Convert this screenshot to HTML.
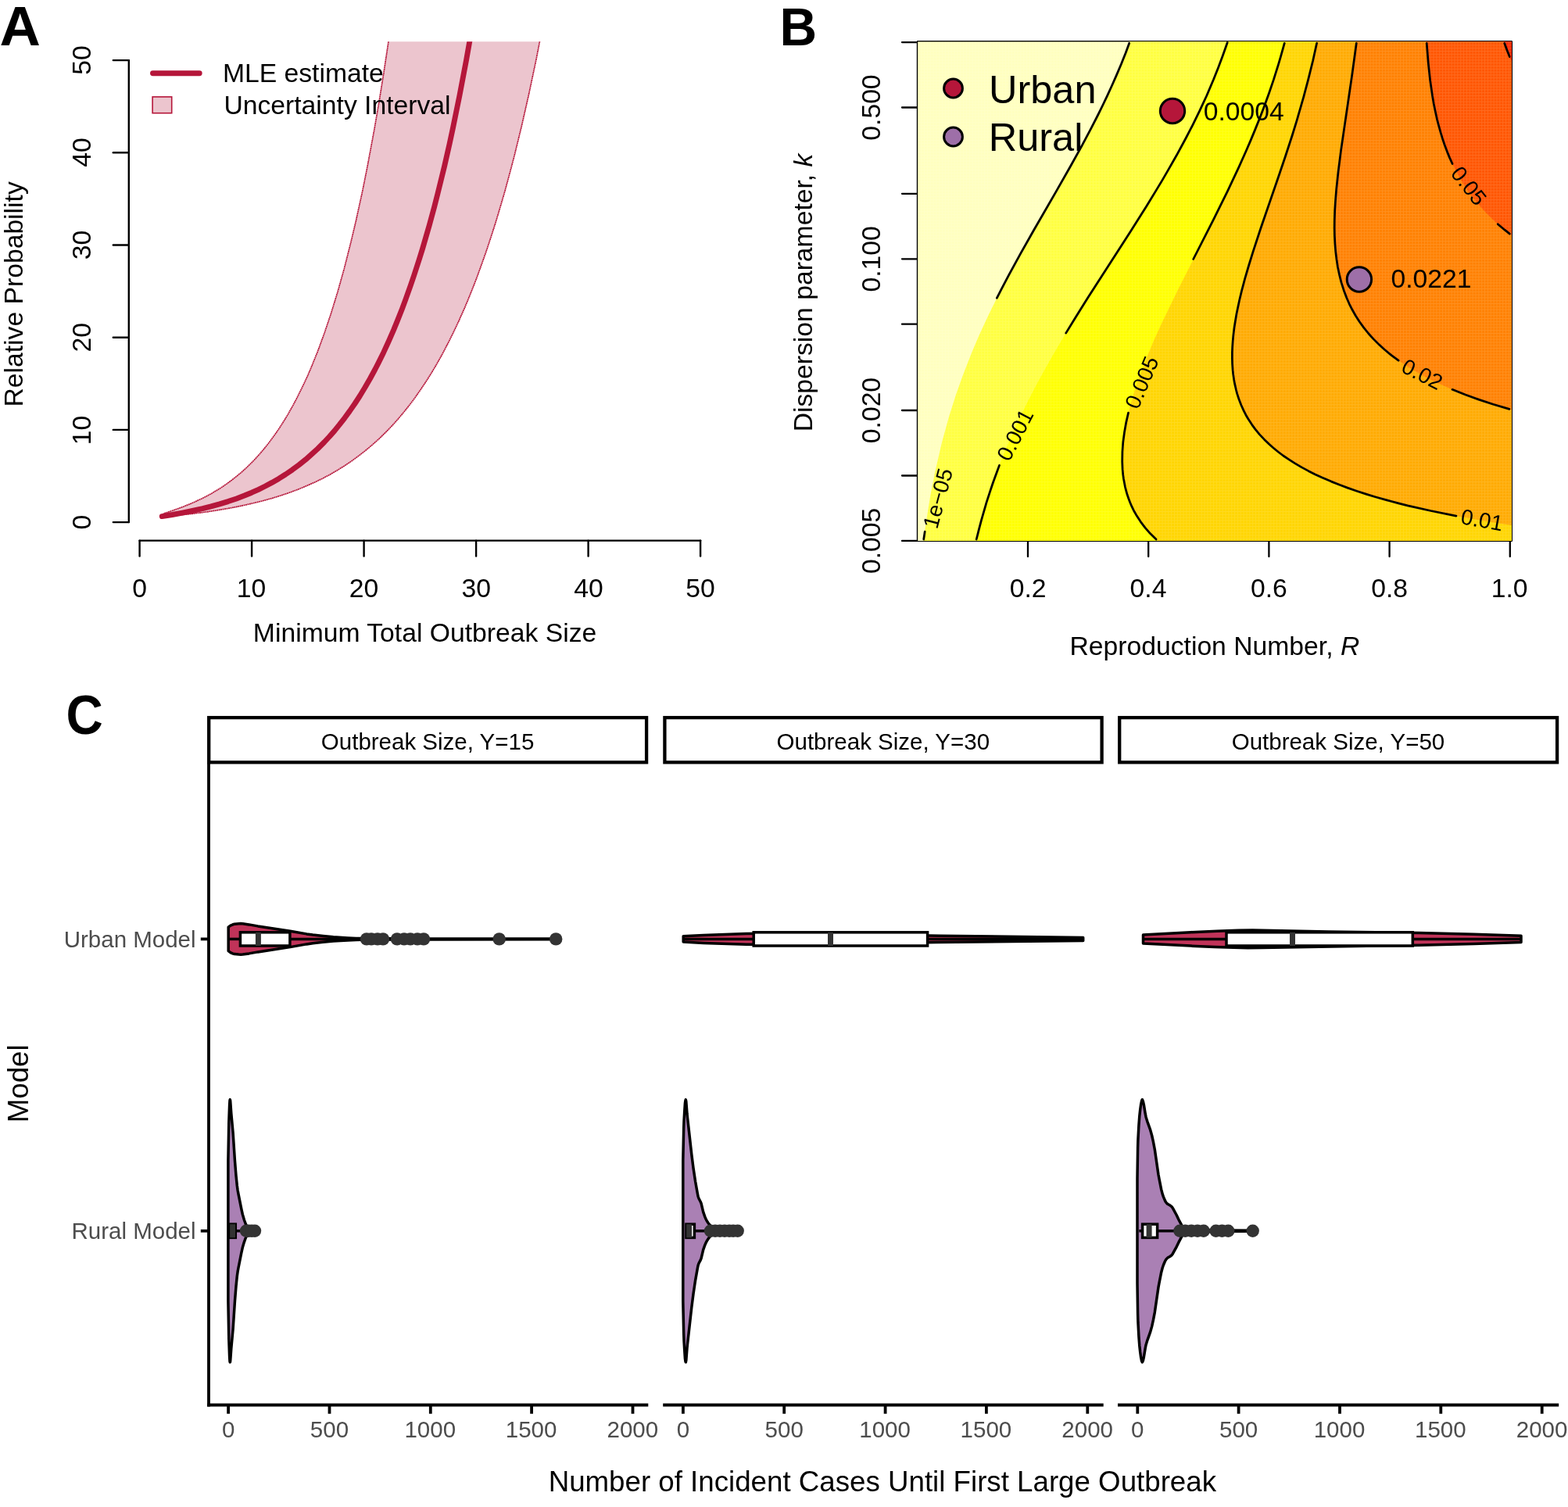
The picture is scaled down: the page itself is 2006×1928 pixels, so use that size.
<!DOCTYPE html>
<html lang="en">
<head>
<meta charset="utf-8">
<title>Figure: relative probability, outbreak risk and incident cases</title>
<style>
html,body{margin:0;padding:0;background:#fff;}
body{width:2006px;height:1928px;overflow:hidden;}
svg{display:block;font-family:'Liberation Sans', Arial, Helvetica, sans-serif;}
</style>
</head>
<body>
<svg xmlns="http://www.w3.org/2000/svg" width="2006" height="1928" viewBox="0 0 2006 1928">
<rect width="2006" height="1928" fill="#fff"/>
<g id="panelA">
<text transform="translate(-0.51,57.90) scale(1.0880,1.0429)" font-size="66.67" font-weight="bold">A</text>
<clipPath id="clipA"><rect x="150" y="53.2" width="800" height="640"/></clipPath>
<g clip-path="url(#clipA)">
<path d="M207.3,660.6L209.4,657.1 222.1,652.7 232.7,648.9 241.2,645.5 247.6,642.8 256,638.9 262.4,635.8 270.9,631.2 277.2,627.4 283.6,623.4 289.9,619.1 296.3,614.4 302.6,609.4 309,604.1 315.4,598.3 321.7,592.1 326,587.7 332.3,580.7 336.5,575.8 342.9,567.9 347.1,562.3 353.5,553.4 357.7,547.2 364.1,537.2 368.3,530.2 374.7,518.9 378.9,511 387.4,494 393.8,480.2 398,470.4 406.5,449.4 414.9,426.5 423.4,401.3 431.9,373.7 440.4,343.4 448.8,310.3 455.2,283.4 463.7,244.6 470,213.1 478.5,167.6 484.9,130.8 491.2,91.4 497.6,49.2 503.9,4.1 510.3,-44.1 516.6,-95.6 523,-150.6 723.9,-143.2 714.5,-82.2 705,-25.7 695.6,26.7 686.2,75.1 676.7,120 667.3,161.5 657.9,199.9 653.1,218.1 646.1,244 641.3,260.5 634.3,284 629.5,299 622.5,320.3 617.7,333.9 610.7,353.3 606,365.6 598.9,383.2 594.2,394.4 587.1,410.3 580,425.4 572.9,439.6 565.9,453 558.8,465.7 551.7,477.6 544.6,488.8 537.5,499.4 530.5,509.4 523.4,518.8 516.3,527.7 509.2,536.1 502.2,544 495.1,551.4 485.7,560.7 478.6,567.1 469.1,575.2 459.7,582.6 450.3,589.5 440.8,595.9 431.4,601.7 422,607.2 412.5,612.2 403.1,616.8 391.3,622 381.9,625.9 370.1,630.3 358.3,634.3 346.5,637.9 334.7,641.1 322.9,644 308.7,647.2 294.6,650 280.4,652.4 263.9,655 247.4,657.1 228.5,659.2 209.7,660.8 207.3,660.6Z" fill="#B5163A" fill-opacity="0.25" stroke="#B5163A" stroke-width="1.7" stroke-linejoin="round" stroke-dasharray="2 0.5"/>
<path d="M207.3,660.6L220.3,658.5 233.3,656.1 246.2,653.5 259.2,650.6 270,647.9 280.9,644.9 291.7,641.6 302.5,637.9 313.3,633.8 322,630.2 330.6,626.3 339.3,622 347.9,617.4 356.6,612.4 365.2,607 373.9,601.1 382.5,594.7 391.2,587.8 399.8,580.2 406.3,574.2 415,565.5 421.5,558.5 428,551.1 434.4,543.2 440.9,534.8 447.4,525.9 453.9,516.5 460.4,506.5 466.9,495.8 473.4,484.5 479.9,472.5 484.2,464.1 490.7,450.9 497.2,436.8 503.7,421.9 508,411.4 514.5,394.9 518.8,383.4 525.3,365.2 529.6,352.5 536.1,332.5 540.5,318.4 549.1,288.7 555.6,264.8 559.9,248 568.6,212.6 575.1,184.1 579.4,164.1 588,121.9 596.7,76.2 605.4,26.8 614,-26.5 622.7,-84.1 631.3,-146.3 637.8,-196.1" fill="none" stroke="#B5163A" stroke-width="6.9" stroke-linecap="round" stroke-linejoin="round"/>
</g>
<line x1="164.8" y1="77.1" x2="164.8" y2="668.1" stroke="#000" stroke-width="2.4" stroke-linecap="round"/>
<line x1="144.8" y1="668.1" x2="164.8" y2="668.1" stroke="#000" stroke-width="2.4" stroke-linecap="round"/>
<text transform="translate(116.2,668.1) rotate(-90)" x="-9.39" y="0.00" font-size="33.7">0</text>
<line x1="144.8" y1="549.9" x2="164.8" y2="549.9" stroke="#000" stroke-width="2.4" stroke-linecap="round"/>
<text transform="translate(116.2,549.9) rotate(-90)" x="-19.34" y="0.00" font-size="33.7">10</text>
<line x1="144.8" y1="431.7" x2="164.8" y2="431.7" stroke="#000" stroke-width="2.4" stroke-linecap="round"/>
<text transform="translate(116.2,431.7) rotate(-90)" x="-18.91" y="0.00" font-size="33.7">20</text>
<line x1="144.8" y1="313.5" x2="164.8" y2="313.5" stroke="#000" stroke-width="2.4" stroke-linecap="round"/>
<text transform="translate(116.2,313.5) rotate(-90)" x="-18.70" y="0.00" font-size="33.7">30</text>
<line x1="144.8" y1="195.3" x2="164.8" y2="195.3" stroke="#000" stroke-width="2.4" stroke-linecap="round"/>
<text transform="translate(116.2,195.3) rotate(-90)" x="-18.45" y="0.00" font-size="33.7">40</text>
<line x1="144.8" y1="77.1" x2="164.8" y2="77.1" stroke="#000" stroke-width="2.4" stroke-linecap="round"/>
<text transform="translate(116.2,77.1) rotate(-90)" x="-18.75" y="0.00" font-size="33.7">50</text>
<line x1="178.6" y1="691.6" x2="896.1" y2="691.6" stroke="#000" stroke-width="2.4" stroke-linecap="round"/>
<line x1="178.6" y1="691.6" x2="178.6" y2="711.6" stroke="#000" stroke-width="2.4" stroke-linecap="round"/>
<text x="169.21" y="763.80" font-size="33.7">0</text>
<line x1="322.1" y1="691.6" x2="322.1" y2="711.6" stroke="#000" stroke-width="2.4" stroke-linecap="round"/>
<text x="302.76" y="763.80" font-size="33.7">10</text>
<line x1="465.6" y1="691.6" x2="465.6" y2="711.6" stroke="#000" stroke-width="2.4" stroke-linecap="round"/>
<text x="446.69" y="763.80" font-size="33.7">20</text>
<line x1="609.1" y1="691.6" x2="609.1" y2="711.6" stroke="#000" stroke-width="2.4" stroke-linecap="round"/>
<text x="590.40" y="763.80" font-size="33.7">30</text>
<line x1="752.6" y1="691.6" x2="752.6" y2="711.6" stroke="#000" stroke-width="2.4" stroke-linecap="round"/>
<text x="734.15" y="763.80" font-size="33.7">40</text>
<line x1="896.1" y1="691.6" x2="896.1" y2="711.6" stroke="#000" stroke-width="2.4" stroke-linecap="round"/>
<text x="877.35" y="763.80" font-size="33.7">50</text>
<text x="323.86" y="821.20" font-size="33.7">Minimum Total Outbreak Size</text>
<text transform="translate(29,375) rotate(-90)" x="-145.58" y="0.00" font-size="33.7">Relative Probability</text>
<line x1="195.5" y1="93.7" x2="255.2" y2="93.7" stroke="#B5163A" stroke-width="6.9" stroke-linecap="round"/>
<rect x="195.1" y="123.9" width="24.6" height="20.8" fill="#B5163A" fill-opacity="0.25" stroke="#B5163A" stroke-width="1.6"/>
<text x="284.92" y="105.10" font-size="33.7">MLE estimate</text>
<text x="286.39" y="146.00" font-size="33.7">Uncertainty Interval</text>
</g>
<g id="panelB">
<text transform="translate(997.55,57.70) scale(0.9885,1.0407)" font-size="66.67" font-weight="bold">B</text>
<rect x="1173.95" y="53.2" width="759.95" height="638.75" fill="none" stroke="#000" stroke-width="2.3" stroke-linejoin="round"/>
<line x1="1154" y1="54.1" x2="1174" y2="54.1" stroke="#000" stroke-width="2.3" stroke-linecap="round"/>
<line x1="1154" y1="137.5" x2="1174" y2="137.5" stroke="#000" stroke-width="2.3" stroke-linecap="round"/>
<text transform="translate(1126.4,137.5) rotate(-90)" x="-42.21" y="0.00" font-size="33.7">0.500</text>
<line x1="1154" y1="247.8" x2="1174" y2="247.8" stroke="#000" stroke-width="2.3" stroke-linecap="round"/>
<line x1="1154" y1="331.3" x2="1174" y2="331.3" stroke="#000" stroke-width="2.3" stroke-linecap="round"/>
<text transform="translate(1126.4,331.3) rotate(-90)" x="-42.21" y="0.00" font-size="33.7">0.100</text>
<line x1="1154" y1="414.7" x2="1174" y2="414.7" stroke="#000" stroke-width="2.3" stroke-linecap="round"/>
<line x1="1154" y1="525" x2="1174" y2="525" stroke="#000" stroke-width="2.3" stroke-linecap="round"/>
<text transform="translate(1126.4,525) rotate(-90)" x="-42.21" y="0.00" font-size="33.7">0.020</text>
<line x1="1154" y1="608.5" x2="1174" y2="608.5" stroke="#000" stroke-width="2.3" stroke-linecap="round"/>
<line x1="1154" y1="691.9" x2="1174" y2="691.9" stroke="#000" stroke-width="2.3" stroke-linecap="round"/>
<text transform="translate(1126.4,691.9) rotate(-90)" x="-42.17" y="0.00" font-size="33.7">0.005</text>
<line x1="1315" y1="692" x2="1315" y2="712" stroke="#000" stroke-width="2.3" stroke-linecap="round"/>
<text x="1291.75" y="764.10" font-size="33.7">0.2</text>
<line x1="1469.2" y1="692" x2="1469.2" y2="712" stroke="#000" stroke-width="2.3" stroke-linecap="round"/>
<text x="1445.57" y="764.10" font-size="33.7">0.4</text>
<line x1="1623.4" y1="692" x2="1623.4" y2="712" stroke="#000" stroke-width="2.3" stroke-linecap="round"/>
<text x="1600.02" y="764.10" font-size="33.7">0.6</text>
<line x1="1777.6" y1="692" x2="1777.6" y2="712" stroke="#000" stroke-width="2.3" stroke-linecap="round"/>
<text x="1754.22" y="764.10" font-size="33.7">0.8</text>
<line x1="1931.8" y1="692" x2="1931.8" y2="712" stroke="#000" stroke-width="2.3" stroke-linecap="round"/>
<text x="1907.75" y="764.10" font-size="33.7">1.0</text>
<clipPath id="clipB"><rect x="1174.1" y="53.2" width="759.8" height="638.8"/></clipPath>
<g clip-path="url(#clipB)">
<rect x="1174.1" y="53.2" width="759.8" height="638.8" fill="#FFFFBF"/>
<path d="M1445.6,52.7L1446.5,50.2 1936.9,50.2 1936.9,695 1181.1,695 1184.4,670.1 1190.5,632.8 1196.4,602.9 1205.1,565.5 1214,533.2 1222.7,505.8 1231.5,480.9 1243.2,451 1252.8,428.6 1264.3,403.7 1276.6,378.8 1288.2,356.4 1314.2,309.1 1375.1,202.7 1389.9,175.6 1401.7,152.9 1413.6,128.9 1425.4,103.1 1437.2,74.9 1445.6,52.7Z" fill="#FFFF40"/>
<path d="M1571.6,50.2L1936.9,50.2 1936.9,695 1248.1,695 1252.9,675.1 1259.1,652.7 1266.1,630.3 1273.8,607.9 1282.4,585.5 1291.7,563.1 1302.9,538.2 1313.8,515.8 1324.1,495.8 1334.8,475.9 1347.5,453.5 1362.2,428.6 1391.5,381.3 1446.1,296.5 1466.8,263.7 1487.5,229.6 1505.2,198.8 1517,177 1525.9,159.8 1534.8,141.7 1543.7,122.5 1552.5,101.8 1558.4,87 1564.3,71.2 1571.6,50.2Z" fill="#FFFF00"/>
<path d="M1643.9,52.7L1644.6,50.2 1936.9,50.2 1936.9,695 1484.8,695 1478.6,689.6 1472.7,683.8 1463,672.6 1457.9,665.6 1454.4,660.1 1447.8,647.7 1444.7,640.2 1442.1,632.8 1440,625.3 1437.9,615.3 1436.8,607.9 1435.9,597.9 1435.7,590.4 1435.8,580.5 1436.4,570.5 1437.4,560.6 1440.7,540.6 1446,518.2 1452.8,495.8 1459.8,475.9 1467.6,456 1476,436.1 1486.1,413.7 1506.6,371.4 1549.6,286.7 1567.3,251 1582.1,220 1596.9,187 1611.7,151.1 1623.5,119.3 1629.4,101.9 1635.3,83.1 1643.9,52.7Z" fill="#FFD500"/>
<path d="M1685.2,52.7L1685.7,50.2 1936.9,50.2 1936.9,672.5 1898.5,666.4 1860,659.5 1824.5,652.2 1795,645.3 1765.4,637.4 1738.8,629.2 1715.1,620.8 1694.4,612.3 1673.7,602.4 1656,592.4 1641.2,582.6 1632.4,575.8 1626.4,570.8 1620.5,565.4 1613.5,558.1 1608.7,552.6 1603.3,545.6 1595.2,533.2 1591.3,525.7 1587.9,518.2 1583.4,505.8 1580.1,493.3 1577.6,478.4 1576.5,463.5 1576.5,448.5 1577.6,431.1 1579.9,413.7 1583.5,393.8 1586.9,378.8 1591.3,361.4 1601.6,326.5 1613,291.7 1644.2,200.8 1653.1,173.5 1661.9,144.5 1673.7,101.6 1679.7,77.5 1685.2,52.7Z" fill="#FFAA00"/>
<path d="M1735.6,52.7L1735.9,50.2 1936.9,50.2 1936.9,525.1 1916.2,519.1 1895.5,512.4 1874.8,505 1857.1,497.9 1839.3,490.1 1824.5,482.7 1809.8,474.5 1796,466 1783.1,456.8 1772.8,448.5 1761.9,438.6 1752.5,428.6 1744.4,418.7 1735.8,406.3 1729.9,396.1 1724,383.8 1719.2,371.4 1715.3,358.9 1712.4,346.5 1710.2,334 1708.7,321.6 1707.6,306.6 1707.2,291.7 1707.5,274.3 1709.5,244.4 1713.3,209.5 1717.7,177.2 1729.9,94.8 1735.6,52.7Z" fill="#FF8000"/>
<path d="M1824.9,50.2L1936.9,50.2 1936.9,303.3 1922.1,291.7 1910.8,281.7 1900.7,271.8 1889.6,259.3 1880,246.9 1871.6,234.4 1863,219.5 1855.8,204.6 1849.7,189.6 1843.8,172.2 1839,154.8 1835.2,137.3 1831.7,117.4 1829,97.5 1826.7,75.1 1824.9,50.2Z" fill="#FF5500"/>
<path d="M1923,50.2L1936.9,50.2 1936.9,85.4 1929.3,67.6 1923,50.2Z" fill="#FF2A00"/>
<pattern id="cells" x="1174.3" y="53.6" width="3.855" height="3.8" patternUnits="userSpaceOnUse"><path d="M0,0.5H3.95M0.5,0V3.6" stroke="#fff" stroke-opacity="0.13" stroke-width="1" fill="none"/></pattern>
<rect x="1174.1" y="53.2" width="759.8" height="638.8" fill="url(#cells)"/>
<path d="M1275.3,381.3L1281.7,368.9 1290.9,351.4 1305.8,324.1 1322.7,294.2 1351.5,244.4 1369.2,213.2 1384,186.6 1395.8,164.4 1404.7,147 1410.6,135 1416.5,122.7 1422.4,109.8 1428.3,96.4 1434.3,82.3 1440.2,67.4 1444.7,55.2" fill="none" stroke="#000" stroke-width="2.75" stroke-linecap="round" stroke-linejoin="round"/>
<path d="M1181.7,690L1183.2,680.1" fill="none" stroke="#000" stroke-width="2.75" stroke-linecap="round" stroke-linejoin="round"/>
<path d="M1363.7,426.1L1375.9,406.2 1391.5,381.3 1446.1,296.5 1466.8,263.7 1478.6,244.4 1487.5,229.6 1496.3,214.4 1505.2,198.8 1517,177 1525.9,159.8 1534.8,141.7 1543.7,122.5 1552.5,101.8 1558.4,87 1564.3,71.2 1570.3,54.2" fill="none" stroke="#000" stroke-width="2.75" stroke-linecap="round" stroke-linejoin="round"/>
<path d="M1249.2,690L1252.3,677.6 1255.6,665.1 1262.1,642.7 1266.1,630.3 1270.3,617.8 1278.5,595.4" fill="none" stroke="#000" stroke-width="2.75" stroke-linecap="round" stroke-linejoin="round"/>
<path d="M1526.7,331.5L1552.5,280.8 1570.3,244.9 1585,213.6 1593.9,193.8 1599.8,180.1 1605.7,165.9 1611.7,151.1 1617.6,135.6 1623.5,119.3 1629.4,101.9 1635.3,83.1 1638.4,72.6 1643.3,55.2" fill="none" stroke="#000" stroke-width="2.75" stroke-linecap="round" stroke-linejoin="round"/>
<path d="M1479.1,690L1471.5,682.6 1465,675.1 1459.3,667.6 1454.4,660.1 1450.2,652.7 1447.8,647.7 1445.7,642.7 1443.8,637.7 1442.1,632.8 1440.7,627.8 1439.4,622.8 1437.5,612.8 1436.8,607.9 1436.1,600.4 1435.7,590.4 1435.9,578 1436.8,565.5 1438.5,553.1 1440.7,540.6 1443.5,528.2" fill="none" stroke="#000" stroke-width="2.75" stroke-linecap="round" stroke-linejoin="round"/>
<path d="M1863,660.1L1830.5,653.5 1800.9,646.8 1789.1,643.8 1774.3,639.9 1759.5,635.7 1747.7,632.1 1735.8,628.2 1724,624.1 1713.8,620.3 1703.3,616.1 1691.5,611 1682.6,606.9 1673.7,602.4 1665.3,597.9 1656.8,592.9 1649,587.9 1641.7,583 1635.1,578 1629,573 1623.4,568 1617.6,562.4 1611.2,555.6 1605.7,548.9 1601.5,543.1 1596.9,536 1593.8,530.7 1591,525.1 1587.9,518.2 1585,510.8 1582.6,503.3 1581.3,498.3 1579.6,490.9 1578.7,485.9 1577.6,478.4 1577.1,473.4 1576.6,466 1576.4,458.5 1576.4,451 1576.7,443.6 1577.2,436.1 1577.9,428.6 1579.1,418.7 1580.3,411.2 1582,401.2 1585.7,383.8 1588.7,371.4 1592.7,356.4 1597.8,339 1603.2,321.6 1613,291.7 1635.3,227 1644.2,200.8 1653.1,173.5 1659,154.4 1667.8,123.8 1673.7,101.6 1679.7,77.5 1684.6,55.2" fill="none" stroke="#000" stroke-width="2.75" stroke-linecap="round" stroke-linejoin="round"/>
<path d="M1789.1,461.2L1780.2,454.6 1771.3,447.3 1764.5,441.1 1757,433.6 1750.6,426.5 1744.7,419.1 1739,411.2 1734.2,403.7 1730,396.3 1726.2,388.8 1722.9,381.3 1719.2,371.4 1716,361.4 1713.5,351.4 1711.4,341.5 1709.9,331.5 1708.7,321.6 1707.9,311.6 1707.4,301.6 1707.2,291.7 1707.3,281.7 1707.7,269.3 1708.5,256.8 1709.7,241.9 1712.1,219.5 1715.6,192.1 1729.9,94.8 1735.3,55.2" fill="none" stroke="#000" stroke-width="2.75" stroke-linecap="round" stroke-linejoin="round"/>
<path d="M1931,523.4L1910.3,517.2 1892.5,511.4 1874.8,505 1858,498.3" fill="none" stroke="#000" stroke-width="2.75" stroke-linecap="round" stroke-linejoin="round"/>
<path d="M1858.1,209.5L1854.7,202.1 1851.6,194.6 1848.2,185.5 1845.4,177.2 1843.1,169.7 1840.3,159.7 1838.4,152.3 1836.2,142.3 1834.2,132.4 1832.5,122.4 1829.6,102.5 1827.2,80.1 1825.2,55.2" fill="none" stroke="#000" stroke-width="2.75" stroke-linecap="round" stroke-linejoin="round"/>
<path d="M1931.4,299.2L1925.1,294.2 1916.2,286.7" fill="none" stroke="#000" stroke-width="2.75" stroke-linecap="round" stroke-linejoin="round"/>
<path d="M1931.3,72.6L1928,64.3 1924.7,55.2" fill="none" stroke="#000" stroke-width="2.75" stroke-linecap="round" stroke-linejoin="round"/>
</g>
<text transform="translate(1199.8,637.6) rotate(-75)" font-size="27.8" text-anchor="middle" dy="0.35em">1e&#8722;05</text>
<text transform="translate(1298.6,556.4) rotate(-62.7)" font-size="27.8" text-anchor="middle" dy="0.35em">0.001</text>
<text transform="translate(1460.6,489.3) rotate(-67)" font-size="27.8" text-anchor="middle" dy="0.35em">0.005</text>
<text transform="translate(1896.1,665.2) rotate(10)" font-size="27.8" text-anchor="middle" dy="0.35em">0.01</text>
<text transform="translate(1819.5,478.6) rotate(27)" font-size="27.8" text-anchor="middle" dy="0.35em">0.02</text>
<text transform="translate(1879.2,237.5) rotate(51.8)" font-size="27.8" text-anchor="middle" dy="0.35em">0.05</text>
<text x="1368.48" y="837.90" font-size="33.7">Reproduction Number, <tspan font-style="italic">R</tspan></text>
<text transform="translate(1039.3,373) rotate(-90)" x="-179.33" y="0.00" font-size="33.7">Dispersion parameter, <tspan font-style="italic">k</tspan></text>
<circle cx="1219.5" cy="113" r="11.9" fill="#B5163A" stroke="#000" stroke-width="3"/>
<circle cx="1219.5" cy="175" r="11.9" fill="#9E6FA8" stroke="#000" stroke-width="3"/>
<text x="1264.99" y="131.70" font-size="50.5">Urban</text>
<text x="1264.73" y="192.90" font-size="50.5">Rural</text>
<circle cx="1500" cy="142" r="15.7" fill="#B5163A" stroke="#000" stroke-width="3"/>
<circle cx="1738.9" cy="357.5" r="15.7" fill="#9E6FA8" stroke="#000" stroke-width="3"/>
<text x="1539.75" y="153.90" font-size="33.7">0.0004</text>
<text x="1779.45" y="368.40" font-size="33.7">0.0221</text>
</g>
<g id="panelC">
<text transform="translate(84.38,939.19) scale(0.9824,1.0643)" font-size="66.67" font-weight="bold">C</text>
<rect x="267.2" y="918.1" width="559.9" height="57.2" fill="#fff" stroke="#000" stroke-width="4.3"/>
<text x="410.84" y="958.60" font-size="29.5">Outbreak Size, Y=15</text>
<line x1="265.1" y1="1797.5" x2="829.3" y2="1797.5" stroke="#000" stroke-width="3.8"/>
<line x1="292.1" y1="1797.5" x2="292.1" y2="1808.7" stroke="#000" stroke-width="3.8"/>
<text x="283.88" y="1838.60" font-size="29.5" fill="#4D4D4D">0</text>
<line x1="421.5" y1="1797.5" x2="421.5" y2="1808.7" stroke="#000" stroke-width="3.8"/>
<text x="396.82" y="1838.60" font-size="29.5" fill="#4D4D4D">500</text>
<line x1="550.8" y1="1797.5" x2="550.8" y2="1808.7" stroke="#000" stroke-width="3.8"/>
<text x="517.46" y="1838.60" font-size="29.5" fill="#4D4D4D">1000</text>
<line x1="680.1" y1="1797.5" x2="680.1" y2="1808.7" stroke="#000" stroke-width="3.8"/>
<text x="646.81" y="1838.60" font-size="29.5" fill="#4D4D4D">1500</text>
<line x1="809.5" y1="1797.5" x2="809.5" y2="1808.7" stroke="#000" stroke-width="3.8"/>
<text x="776.53" y="1838.60" font-size="29.5" fill="#4D4D4D">2000</text>
<rect x="850.4" y="918.1" width="559.2" height="57.2" fill="#fff" stroke="#000" stroke-width="4.3"/>
<text x="993.55" y="958.60" font-size="29.5">Outbreak Size, Y=30</text>
<line x1="848.2" y1="1797.5" x2="1411.7" y2="1797.5" stroke="#000" stroke-width="3.8"/>
<line x1="873.9" y1="1797.5" x2="873.9" y2="1808.7" stroke="#000" stroke-width="3.8"/>
<text x="865.68" y="1838.60" font-size="29.5" fill="#4D4D4D">0</text>
<line x1="1003.2" y1="1797.5" x2="1003.2" y2="1808.7" stroke="#000" stroke-width="3.8"/>
<text x="978.62" y="1838.60" font-size="29.5" fill="#4D4D4D">500</text>
<line x1="1132.6" y1="1797.5" x2="1132.6" y2="1808.7" stroke="#000" stroke-width="3.8"/>
<text x="1099.26" y="1838.60" font-size="29.5" fill="#4D4D4D">1000</text>
<line x1="1261.9" y1="1797.5" x2="1261.9" y2="1808.7" stroke="#000" stroke-width="3.8"/>
<text x="1228.61" y="1838.60" font-size="29.5" fill="#4D4D4D">1500</text>
<line x1="1391.3" y1="1797.5" x2="1391.3" y2="1808.7" stroke="#000" stroke-width="3.8"/>
<text x="1358.33" y="1838.60" font-size="29.5" fill="#4D4D4D">2000</text>
<rect x="1432.2" y="918.1" width="559.9" height="57.2" fill="#fff" stroke="#000" stroke-width="4.3"/>
<text x="1575.70" y="958.60" font-size="29.5">Outbreak Size, Y=50</text>
<line x1="1430" y1="1797.5" x2="1994.2" y2="1797.5" stroke="#000" stroke-width="3.8"/>
<line x1="1455.3" y1="1797.5" x2="1455.3" y2="1808.7" stroke="#000" stroke-width="3.8"/>
<text x="1447.08" y="1838.60" font-size="29.5" fill="#4D4D4D">0</text>
<line x1="1584.6" y1="1797.5" x2="1584.6" y2="1808.7" stroke="#000" stroke-width="3.8"/>
<text x="1560.02" y="1838.60" font-size="29.5" fill="#4D4D4D">500</text>
<line x1="1714" y1="1797.5" x2="1714" y2="1808.7" stroke="#000" stroke-width="3.8"/>
<text x="1680.66" y="1838.60" font-size="29.5" fill="#4D4D4D">1000</text>
<line x1="1843.3" y1="1797.5" x2="1843.3" y2="1808.7" stroke="#000" stroke-width="3.8"/>
<text x="1810.01" y="1838.60" font-size="29.5" fill="#4D4D4D">1500</text>
<line x1="1972.7" y1="1797.5" x2="1972.7" y2="1808.7" stroke="#000" stroke-width="3.8"/>
<text x="1939.73" y="1838.60" font-size="29.5" fill="#4D4D4D">2000</text>
<line x1="267" y1="976.5" x2="267" y2="1799.4" stroke="#000" stroke-width="3.8"/>
<line x1="256.8" y1="1201.4" x2="267" y2="1201.4" stroke="#000" stroke-width="3.8"/>
<text x="81.70" y="1212.00" font-size="29.5" fill="#4D4D4D">Urban Model</text>
<line x1="256.8" y1="1574.8" x2="267" y2="1574.8" stroke="#000" stroke-width="3.8"/>
<text x="91.51" y="1585.40" font-size="29.5" fill="#4D4D4D">Rural Model</text>
<text x="701.66" y="1907.90" font-size="36.7">Number of Incident Cases Until First Large Outbreak</text>
<text transform="translate(36,1386) rotate(-90)" x="-50.28" y="0.00" font-size="36.7">Model</text>
<path d="M292.2,1186.1L294.8,1184.2 296,1183.6 297.5,1183 300,1182.2 305.4,1181.7 308,1181.6 310.6,1181.8 318.6,1182.9 330,1184.9 371.3,1191.2 392.3,1194.9 400.2,1196.1 413.4,1197.5 426.6,1198.7 445,1199.9 455.6,1200.4 464,1200.6 547.8,1200.9 711.2,1201.1 711.2,1201.7 547.8,1201.9 464,1202.2 455.6,1202.4 445,1202.9 426.6,1204.1 413.4,1205.3 400.2,1206.7 392.3,1207.9 371.3,1211.6 330,1217.9 318.6,1219.9 310.6,1221 308,1221.2 305.4,1221.1 300,1220.6 297.5,1219.8 296,1219.2 294.8,1218.6 292.2,1216.7Z" fill="#C03359" stroke="#000" stroke-width="3.5" stroke-linejoin="round"/>
<path d="M874.2,1197.7L900,1196.4 954.6,1194.6 977.1,1194.3 1006.1,1194.2 1025.4,1194.4 1073.7,1195.1 1202.3,1197.3 1385.7,1199.4 1385.7,1203.4 1199.1,1205.5 1080.1,1207.6 1019,1208.5 990,1208.6 954.6,1208.2 900,1206.4 874.2,1205.1Z" fill="#C03359" stroke="#000" stroke-width="3.5" stroke-linejoin="round"/>
<path d="M1462.5,1195.9L1523.3,1192.7 1556.8,1191.2 1584.1,1190.3 1602.4,1190.1 1699.7,1191.9 1781.8,1193 1815.2,1193.5 1885.2,1195.3 1946,1197.2 1946,1205.6 1885.2,1207.5 1815.2,1209.3 1781.8,1209.8 1702.7,1210.9 1614.5,1212.5 1596.3,1212.7 1578.1,1212.3 1553.7,1211.5 1523.3,1210.1 1462.5,1206.9Z" fill="#C03359" stroke="#000" stroke-width="3.5" stroke-linejoin="round"/>
<path d="M291.9,1484.8L292.8,1436.1 293.6,1414 294,1407.9 294.3,1406.8 294.5,1407.3 294.7,1409 295.8,1424.3 298.1,1449.3 300.5,1485.5 302,1504.1 303.3,1516.8 304.1,1522.7 305,1527.6 308.8,1546.7 310.3,1553.5 312.5,1561 314.4,1566.1 315.7,1568.6 316.8,1570.4 317.6,1571.5 318.5,1572.2 320,1573.1 321.5,1573.7 324.1,1574.2 326,1574.3 326,1575.3 323.9,1575.5 321.3,1576 319.6,1576.7 317.9,1577.9 317.2,1578.6 316.3,1579.9 314.2,1584 312.3,1589.3 310.3,1596.1 308.8,1602.9 305,1622 304.1,1626.9 303.3,1632.8 302,1645.5 300.5,1664.1 298.1,1700.3 295.8,1725.3 294.7,1740.6 294.5,1742.3 294.3,1742.8 294,1741.7 293.6,1735.6 292.8,1713.5 291.9,1664.8Z" fill="#AA80B4" stroke="#000" stroke-width="3.5" stroke-linejoin="round"/>
<path d="M873.8,1484.8L874.7,1443.8 875,1434.8 875.6,1424.2 876.4,1411.6 876.9,1408 877.3,1406.8 877.8,1409.1 879,1424.8 879.5,1429.7 884.8,1477 887,1494.2 889.6,1511.5 892.3,1526.7 893.1,1530.7 894,1533.3 896.2,1537.5 897.1,1539.7 899.7,1550.7 901.9,1556.9 902.8,1559 904.1,1561.6 905.9,1564.5 907.2,1566.2 909.4,1568.5 911.2,1569.9 912.5,1570.7 915.1,1572 918.2,1573 921.3,1573.4 932.3,1574.1 943.7,1574.3 943.7,1575.3 931.8,1575.5 920,1576.3 917.3,1576.8 914.7,1577.8 912.5,1578.9 911.2,1579.7 909.4,1581.1 907.2,1583.4 905.9,1585.1 904.1,1588 902.8,1590.6 901.9,1592.7 899.7,1598.9 897.1,1609.9 896.2,1612.1 894,1616.3 893.1,1618.9 892.3,1622.9 889.6,1638.1 887,1655.4 884.8,1672.6 879.5,1719.9 879,1724.8 877.8,1740.5 877.3,1742.8 876.9,1741.6 876.4,1738 875.6,1725.4 875,1714.8 874.7,1705.8 873.8,1664.8Z" fill="#AA80B4" stroke="#000" stroke-width="3.5" stroke-linejoin="round"/>
<path d="M1455,1508L1455.6,1468.8 1455.9,1458.4 1456.9,1439.8 1457.8,1427.9 1458.7,1419.8 1459.6,1413.2 1460.6,1408.3 1461.3,1406.8 1461.5,1406.9 1462.4,1409.1 1463.4,1413.6 1465.2,1424.7 1466.1,1429.2 1468,1435.3 1471.7,1445.7 1473.6,1452.5 1475.4,1460.7 1477.3,1470.5 1481.9,1502.2 1482.9,1507.8 1485.7,1521.9 1487.2,1527.6 1488.4,1531.1 1490.3,1535.6 1491.2,1537.4 1492.2,1538.8 1493.1,1539.8 1494,1540.5 1496.8,1542.1 1498.6,1543.4 1499.6,1544.5 1500.5,1545.9 1505.2,1554.5 1507.9,1560.2 1511.7,1567.4 1512.6,1569 1513.5,1570.3 1514.3,1570.9 1515.4,1571.4 1519.1,1572.7 1521.9,1573.3 1524.7,1573.6 1560,1574.1 1602.7,1574.3 1602.7,1575.3 1560,1575.5 1524.7,1576 1521.9,1576.3 1519.1,1576.9 1515.4,1578.2 1514.3,1578.7 1513.5,1579.3 1512.6,1580.6 1511.7,1582.2 1507.9,1589.4 1505.2,1595.1 1500.5,1603.7 1499.6,1605.1 1498.6,1606.2 1496.8,1607.5 1494,1609.1 1493.1,1609.8 1492.2,1610.8 1491.2,1612.2 1490.3,1614 1488.4,1618.5 1487.2,1622 1485.7,1627.7 1482.9,1641.8 1481.9,1647.4 1477.3,1679.1 1475.4,1688.9 1473.6,1697.1 1471.7,1703.9 1468,1714.3 1466.1,1720.4 1465.2,1724.9 1463.4,1736 1462.4,1740.5 1461.5,1742.7 1461.3,1742.8 1460.6,1741.3 1459.6,1736.4 1458.7,1729.8 1457.8,1721.7 1456.9,1709.8 1455.9,1691.2 1455.6,1680.8 1455,1641.6Z" fill="#AA80B4" stroke="#000" stroke-width="3.5" stroke-linejoin="round"/>
<line x1="292.2" y1="1201.4" x2="307.4" y2="1201.4" stroke="#000" stroke-width="3.5"/>
<line x1="370.9" y1="1201.4" x2="460" y2="1201.4" stroke="#000" stroke-width="3.5"/>
<rect x="307.4" y="1192.8" width="63.5" height="17.2" fill="#fff" stroke="#000" stroke-width="3.5" stroke-linejoin="miter"/>
<line x1="330.4" y1="1192.8" x2="330.4" y2="1210" stroke="#333333" stroke-width="7"/>
<circle cx="469" cy="1201.4" r="8.2" fill="#333333"/>
<circle cx="475" cy="1201.4" r="8.2" fill="#333333"/>
<circle cx="483" cy="1201.4" r="8.2" fill="#333333"/>
<circle cx="490" cy="1201.4" r="8.2" fill="#333333"/>
<circle cx="508" cy="1201.4" r="8.2" fill="#333333"/>
<circle cx="517" cy="1201.4" r="8.2" fill="#333333"/>
<circle cx="525" cy="1201.4" r="8.2" fill="#333333"/>
<circle cx="534" cy="1201.4" r="8.2" fill="#333333"/>
<circle cx="542" cy="1201.4" r="8.2" fill="#333333"/>
<circle cx="638.7" cy="1201.4" r="8.2" fill="#333333"/>
<circle cx="711.2" cy="1201.4" r="8.2" fill="#333333"/>
<line x1="874.2" y1="1201.4" x2="964.2" y2="1201.4" stroke="#000" stroke-width="3.5"/>
<line x1="1186.6" y1="1201.4" x2="1385.7" y2="1201.4" stroke="#000" stroke-width="3.5"/>
<rect x="964.2" y="1192.8" width="222.4" height="17.2" fill="#fff" stroke="#000" stroke-width="3.5" stroke-linejoin="miter"/>
<line x1="1062.5" y1="1192.8" x2="1062.5" y2="1210" stroke="#333333" stroke-width="7"/>
<line x1="1462.5" y1="1201.4" x2="1569" y2="1201.4" stroke="#000" stroke-width="3.5"/>
<line x1="1807.3" y1="1201.4" x2="1946" y2="1201.4" stroke="#000" stroke-width="3.5"/>
<rect x="1569" y="1192.8" width="238.3" height="17.2" fill="#fff" stroke="#000" stroke-width="3.5" stroke-linejoin="miter"/>
<line x1="1653.5" y1="1192.8" x2="1653.5" y2="1210" stroke="#333333" stroke-width="7"/>
<line x1="301.3" y1="1574.8" x2="310" y2="1574.8" stroke="#000" stroke-width="3.5"/>
<rect x="294.5" y="1566.2" width="6.8" height="17.2" fill="#fff" stroke="#000" stroke-width="3.5" stroke-linejoin="miter"/>
<line x1="297.6" y1="1566.2" x2="297.6" y2="1583.4" stroke="#333333" stroke-width="7"/>
<circle cx="315" cy="1574.8" r="8.2" fill="#333333"/>
<circle cx="318" cy="1574.8" r="8.2" fill="#333333"/>
<circle cx="322" cy="1574.8" r="8.2" fill="#333333"/>
<circle cx="326" cy="1574.8" r="8.2" fill="#333333"/>
<line x1="888.4" y1="1574.8" x2="903" y2="1574.8" stroke="#000" stroke-width="3.5"/>
<rect x="878" y="1566.2" width="10.4" height="17.2" fill="#fff" stroke="#000" stroke-width="3.5" stroke-linejoin="miter"/>
<line x1="881.6" y1="1566.2" x2="881.6" y2="1583.4" stroke="#333333" stroke-width="7"/>
<circle cx="909" cy="1574.8" r="8.2" fill="#333333"/>
<circle cx="915" cy="1574.8" r="8.2" fill="#333333"/>
<circle cx="921" cy="1574.8" r="8.2" fill="#333333"/>
<circle cx="927" cy="1574.8" r="8.2" fill="#333333"/>
<circle cx="933" cy="1574.8" r="8.2" fill="#333333"/>
<circle cx="938" cy="1574.8" r="8.2" fill="#333333"/>
<circle cx="943.7" cy="1574.8" r="8.2" fill="#333333"/>
<line x1="1457.3" y1="1574.8" x2="1461.6" y2="1574.8" stroke="#000" stroke-width="3.5"/>
<line x1="1480.6" y1="1574.8" x2="1504" y2="1574.8" stroke="#000" stroke-width="3.5"/>
<rect x="1461.6" y="1566.2" width="19" height="17.2" fill="#fff" stroke="#000" stroke-width="3.5" stroke-linejoin="miter"/>
<line x1="1470.1" y1="1566.2" x2="1470.1" y2="1583.4" stroke="#333333" stroke-width="7"/>
<circle cx="1509.4" cy="1574.8" r="8.2" fill="#333333"/>
<circle cx="1516.3" cy="1574.8" r="8.2" fill="#333333"/>
<circle cx="1524.1" cy="1574.8" r="8.2" fill="#333333"/>
<circle cx="1532" cy="1574.8" r="8.2" fill="#333333"/>
<circle cx="1539.8" cy="1574.8" r="8.2" fill="#333333"/>
<circle cx="1555.6" cy="1574.8" r="8.2" fill="#333333"/>
<circle cx="1563.4" cy="1574.8" r="8.2" fill="#333333"/>
<circle cx="1571.3" cy="1574.8" r="8.2" fill="#333333"/>
<circle cx="1602.7" cy="1574.8" r="8.2" fill="#333333"/>
</g>
</svg>
</body>
</html>
